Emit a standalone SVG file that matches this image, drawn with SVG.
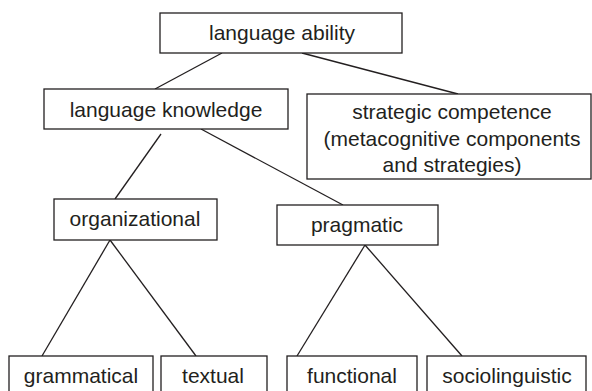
<svg xmlns="http://www.w3.org/2000/svg" width="592" height="391" viewBox="0 0 592 391">
<style>
.box{fill:#fff;stroke:#231f20;stroke-width:1.3}
.lbl{font-family:"Liberation Sans",Arial,sans-serif;font-size:21px;fill:#231f20;text-anchor:middle}
.conn line{stroke:#231f20;stroke-width:1.3}
</style>
<rect width="592" height="391" fill="#fff"/>
<g id="connectors" class="conn">
<line x1="222" y1="53" x2="155" y2="89"/>
<line x1="302" y1="53" x2="458" y2="94"/>
<line x1="161" y1="134" x2="115" y2="199"/>
<line x1="201" y1="129" x2="343" y2="205"/>
<line x1="110" y1="240" x2="42" y2="356"/>
<line x1="110" y1="240" x2="196" y2="356"/>
<line x1="365" y1="245" x2="297" y2="356"/>
<line x1="365" y1="245" x2="462" y2="356"/>
</g>
<g id="language-ability">
<rect class="box" x="160" y="13" width="242" height="40"/>
<text class="lbl" x="282" y="40">language ability</text>
</g>
<g id="language-knowledge">
<rect class="box" x="44" y="89" width="244" height="40"/>
<text class="lbl" x="166" y="117">language knowledge</text>
</g>
<g id="strategic-competence">
<rect class="box" x="307" y="94" width="284" height="85"/>
<text class="lbl" x="452" y="119">strategic competence</text>
<text class="lbl" x="452" y="146">(metacognitive components</text>
<text class="lbl" x="452" y="172">and strategies)</text>
</g>
<g id="organizational">
<rect class="box" x="54" y="199" width="163" height="41"/>
<text class="lbl" x="135" y="226">organizational</text>
</g>
<g id="pragmatic">
<rect class="box" x="277" y="205" width="161" height="40"/>
<text class="lbl" x="357" y="232">pragmatic</text>
</g>
<g id="grammatical">
<rect class="box" x="9" y="356" width="144" height="45"/>
<text class="lbl" x="81" y="383">grammatical</text>
</g>
<g id="textual">
<rect class="box" x="161" y="356" width="106" height="45"/>
<text class="lbl" x="213" y="383">textual</text>
</g>
<g id="functional">
<rect class="box" x="287" y="356" width="130" height="45"/>
<text class="lbl" x="352" y="383">functional</text>
</g>
<g id="sociolinguistic">
<rect class="box" x="427" y="356" width="159" height="45"/>
<text class="lbl" x="507" y="383">sociolinguistic</text>
</g>
</svg>
